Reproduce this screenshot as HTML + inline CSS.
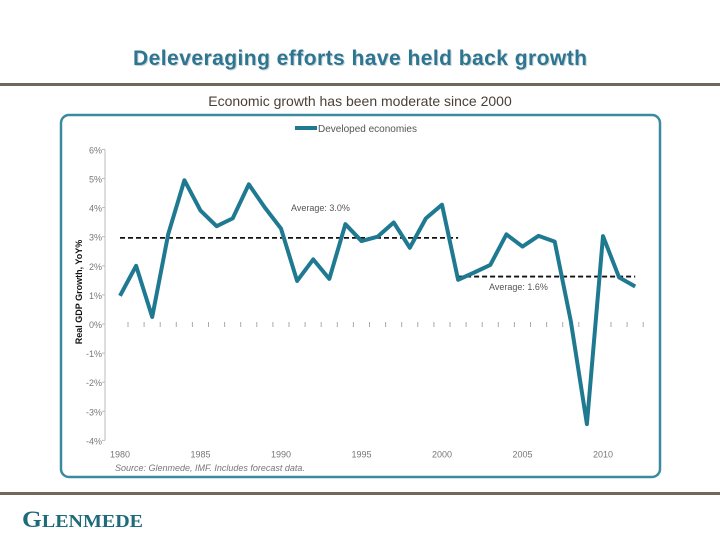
<!DOCTYPE html>
<html><head><meta charset="utf-8"><style>
body{margin:0;width:720px;height:540px;background:#fff;overflow:hidden;font-family:"Liberation Sans",sans-serif}
</style></head><body>
<svg width="720" height="540" xmlns="http://www.w3.org/2000/svg">
<text x="361" y="66" text-anchor="middle" font-size="21" font-weight="bold" fill="#c8d4dc" textLength="454">Deleveraging efforts have held back growth</text>
<text x="360" y="65" text-anchor="middle" font-size="21" font-weight="bold" fill="#2e7590" textLength="454">Deleveraging efforts have held back growth</text>
<rect x="0" y="83" width="720" height="3" fill="#716758"/>
<text x="360" y="106" text-anchor="middle" font-size="14" fill="#4a4038">Economic growth has been moderate since 2000</text>
<rect x="61" y="115" width="599" height="362" rx="8" fill="#fff" stroke="#3b8aa0" stroke-width="2.5"/>
<g id="chart"></g>
<rect x="0" y="492" width="720" height="3" fill="#716758"/>
<text x="22" y="527" font-family="Liberation Serif,serif" font-weight="bold" fill="#1d6a7a" textLength="121" lengthAdjust="spacingAndGlyphs"><tspan font-size="23">G</tspan><tspan font-size="18">LENMEDE</tspan></text>
</svg>
<script>
const years=[1980,1981,1982,1983,1984,1985,1986,1987,1988,1989,1990,1991,1992,1993,1994,1995,1996,1997,1998,1999,2000,2001,2002,2003,2004,2005,2006,2007,2008,2009,2010,2011,2012];
const growth=[0.97,2.0,0.24,3.1,4.94,3.9,3.36,3.63,4.8,4.0,3.28,1.48,2.22,1.55,3.43,2.85,3.0,3.49,2.62,3.63,4.1,1.52,1.77,2.03,3.08,2.66,3.03,2.83,0.1,-3.44,3.02,1.6,1.29];
const yTicks=[6,5,4,3,2,1,0,-1,-2,-3,-4];
const xLabels=[1980,1985,1990,1995,2000,2005,2010];
const avg1=[1980,2001,2.96], avg2=[2001,2012,1.63];
const NS="http://www.w3.org/2000/svg";
const g=document.getElementById('chart');
const X=y=>120+(y-1980)*16.1;
const Y=v=>324-v*29.1;
function mk(t,a){const e=document.createElementNS(NS,t);for(const k in a)e.setAttribute(k,a[k]);g.appendChild(e);return e;}
let ax=mk('line',{x1:105,x2:105,y1:Y(6),y2:Y(-4),stroke:'#bbb','stroke-width':1});


yTicks.forEach(v=>{
 const t=mk('text',{x:102,y:Y(v)+4,'text-anchor':'end','font-size':9,fill:'#777'});t.textContent=v+'%';
 
 
 const l=mk('line',{x1:102,x2:105,y1:Y(v),y2:Y(v),stroke:'#bbb'});
 
 
});
years.forEach(yr=>{
 const l=mk('line',{x1:X(yr)+8,x2:X(yr)+8,y1:Y(0)-2,y2:Y(0)+3,stroke:'#aaa'});
 
 
});
xLabels.forEach(yr=>{
 const t=mk('text',{x:X(yr),y:Y(-4)+17,'text-anchor':'middle','font-size':9,fill:'#777'});t.textContent=yr;
 
 
});
const yl=mk('text',{transform:'translate(82,292) rotate(-90)','text-anchor':'middle','font-size':9,'font-weight':'bold',fill:'#111'});yl.textContent='Real GDP Growth, YoY%';


[avg1,avg2].forEach((a,i)=>{
 const l=mk('line',{x1:X(a[0]),x2:X(a[1]),y1:Y(a[2]),y2:Y(a[2]),stroke:'#111','stroke-width':1.8,'stroke-dasharray':'5,3'});
 
 
});
const t1=mk('text',{x:291,y:211,'font-size':9,fill:'#555'});t1.textContent='Average: 3.0%';


const t2=mk('text',{x:489,y:290,'font-size':9,fill:'#555'});t2.textContent='Average: 1.6%';


const p=mk('polyline',{points:years.map((yr,i)=>X(yr)+','+Y(growth[i])).join(' '),fill:'none',stroke:'#1f7a91','stroke-width':4,'stroke-linejoin':'round'});


const lg=mk('line',{x1:295,x2:317,y1:128,y2:128,stroke:'#1f7a91','stroke-width':4});


const lt=mk('text',{x:318,y:132,'font-size':10,fill:'#555'});lt.textContent='Developed economies';


const src=mk('text',{x:115,y:471,'font-size':9,'font-style':'italic',fill:'#777'});src.textContent='Source: Glenmede, IMF. Includes forecast data.';


</script>
</body></html>
